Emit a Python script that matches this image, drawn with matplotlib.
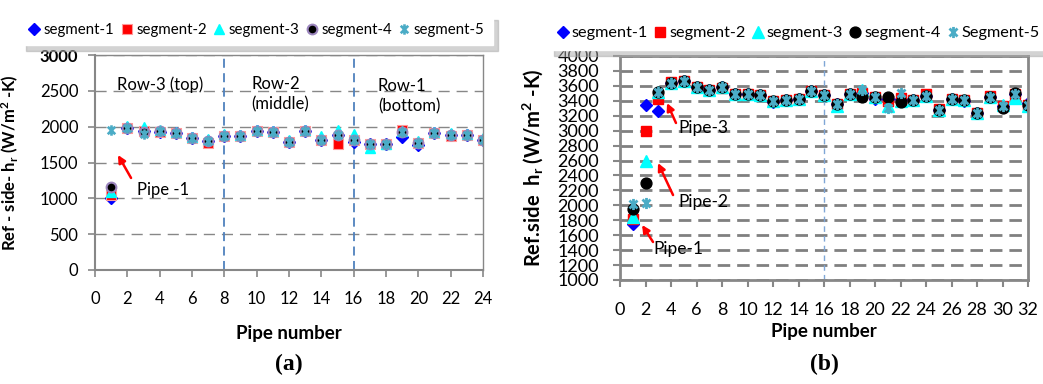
import matplotlib
matplotlib.use("Agg")
import matplotlib.pyplot as plt
from matplotlib.path import Path
import numpy as np

plt.rcParams['font.family'] = ['Lato', 'DejaVu Sans']
plt.rcParams['mathtext.default'] = 'regular'

# ---------------- data: panel (a), 24 pipes ----------------
pipes_a = list(range(1, 25))
a_seg1 = [1000, 1975, 1940, 1920, 1905, 1840, 1795, 1875, 1865, 1945, 1925, 1790,
          1940, 1815, 1880, 1790, 1765, 1755, 1850, 1750, 1905, 1885, 1885, 1810]
a_seg2 = [1040, 1975, 1940, 1920, 1905, 1840, 1775, 1875, 1865, 1945, 1925, 1790,
          1940, 1815, 1760, 1820, 1765, 1755, 1960, 1770, 1905, 1870, 1885, 1820]
a_seg3 = [1085, 2010, 1990, 1960, 1930, 1860, 1830, 1900, 1880, 1960, 1940, 1810,
          1955, 1870, 1960, 1900, 1700, 1765, 1940, 1800, 1920, 1905, 1900, 1840]
a_seg4 = [1160, 1975, 1930, 1940, 1905, 1840, 1795, 1875, 1865, 1945, 1925, 1790,
          1940, 1815, 1880, 1820, 1765, 1755, 1925, 1770, 1905, 1885, 1885, 1820]
a_seg5 = [1960, 1975, 1900, 1940, 1905, 1840, 1795, 1875, 1865, 1945, 1925, 1790,
          1940, 1815, 1880, 1820, 1765, 1755, 1925, 1770, 1905, 1885, 1885, 1820]

# ---------------- data: panel (b), 32 pipes ----------------
pipes_b = list(range(1, 33))
b_seg1 = [1750, 3340, 3270, 3640, 3660, 3580, 3545, 3590, 3490, 3495, 3480, 3380,
          3410, 3420, 3530, 3480, 3360, 3490, 3510, 3420, 3420, 3420, 3413, 3467,
          3275, 3420, 3400, 3230, 3445, 3330, 3490, 3370]
b_seg2 = [1820, 3000, 3430, 3650, 3660, 3580, 3545, 3570, 3490, 3495, 3480, 3400,
          3410, 3420, 3530, 3480, 3360, 3490, 3510, 3445, 3400, 3440, 3413, 3490,
          3290, 3420, 3413, 3230, 3470, 3330, 3490, 3340]
b_seg3 = [1840, 2600, 3520, 3640, 3660, 3580, 3545, 3590, 3490, 3495, 3480, 3400,
          3410, 3420, 3530, 3480, 3330, 3490, 3540, 3445, 3330, 3400, 3413, 3467,
          3275, 3420, 3413, 3230, 3445, 3350, 3440, 3330]
b_seg4 = [1950, 2300, 3520, 3640, 3660, 3580, 3545, 3590, 3490, 3495, 3480, 3400,
          3410, 3420, 3530, 3480, 3360, 3490, 3450, 3445, 3445, 3380, 3413, 3467,
          3275, 3420, 3413, 3230, 3445, 3310, 3500, 3340]
b_seg5 = [2020, 2030, 3520, 3640, 3660, 3580, 3545, 3590, 3490, 3495, 3480, 3400,
          3410, 3420, 3530, 3480, 3360, 3490, 3540, 3445, 3300, 3510, 3413, 3467,
          3275, 3420, 3413, 3230, 3445, 3330, 3490, 3340]

labels_a = ["segment-1", "segment-2", "segment-3", "segment-4", "segment-5"]
labels_b = ["segment-1", "segment-2", "segment-3", "segment-4", "Segment-5"]

# star marker: vertical bar plus an X
star = Path([(0, -1), (0, 1), (-0.72, -0.72), (0.72, 0.72), (-0.72, 0.72), (0.72, -0.72)],
            [Path.MOVETO, Path.LINETO] * 3)

fig = plt.figure(figsize=(10.43, 3.84), dpi=100)
W, H = 1043, 384

GRAY = '#878787'
BLUE_LINE = '#4F81BD'
SHADOW = {'color': '#a8a8a8', 'alpha': 0.5, 'ox': 4, 'oy': -4}

# ================= panel (a) =================
axa = fig.add_axes([95 / W, (H - 270) / H, 388 / W, 215 / H])
sty_a = [
    dict(marker='D', color='#0000FF', ms=5.8, mec='#0000FF'),
    dict(marker='s', color='#FF0000', ms=7.2, mec='#FF9999', mew=0.8),
    dict(marker='^', color='#00FFFF', ms=7, mec='#00FFFF'),
    dict(marker='o', color='#000000', ms=7, mec='#9B85BD', mew=1.5),
    dict(marker=star, color='#4BACC6', ms=7.5, mew=1.9, mfc='none', mec='#4BACC6'),
]
handles_a = []
for ys, st, lab in zip([a_seg1, a_seg2, a_seg3, a_seg4, a_seg5], sty_a, labels_a):
    h, = axa.plot(pipes_a, ys, ls='none', label=lab, **st)
    handles_a.append(h)

axa.set_xlim(0, 24)
axa.set_ylim(0, 3000)
axa.set_xticks(np.arange(0, 25, 2))
axa.set_yticks(np.arange(0, 3001, 500))
axa.yaxis.grid(True, color=GRAY, lw=1.0, ls=(0, (8, 5)))
axa.set_axisbelow(True)
for s in axa.spines.values():
    s.set_color(GRAY)
    s.set_linewidth(1.0)
axa.spines['left'].set_linewidth(1.5)
axa.spines['bottom'].set_linewidth(1.5)
axa.tick_params(axis='both', direction='out', color=GRAY, width=1.2, length=5,
                labelsize=12)
axa.tick_params(axis='y', pad=7)
axa.tick_params(axis='x', pad=10)
for t in axa.get_yticklabels():
    if t.get_text() == '3000':
        t.set_fontweight('bold')
for xv in (8, 16):
    axa.axvline(xv, color=BLUE_LINE, lw=1.3, ls=(0, (5, 3)), zorder=1)

axa.text(1.36, 2581, "Row-3 (top)", fontsize=12, va='center', ha='left')
axa.text(9.65, 2455, "Row-2\n(middle)", fontsize=12, va='center', ha='left', linespacing=1.3)
axa.text(17.5, 2428, "Row-1\n(bottom)", fontsize=12, va='center', ha='left', linespacing=1.3)
axa.text(2.6, 1116, "Pipe -1", fontsize=12, va='center', ha='left')
axa.annotate('', xy=(1.42, 1605), xytext=(2.23, 1284),
             arrowprops=dict(arrowstyle='-|>', color='#FF0000', lw=1.8, mutation_scale=11,
                             shrinkA=0, shrinkB=0))

axa.set_ylabel(r"Ref - side- h$_{\mathregular{r}}$ (W/m$^{\mathregular{2}}$ -K)",
               fontsize=12, fontweight='bold')
axa.yaxis.set_label_coords((21 - 95) / 388, 0.5)
axa.set_xlabel("Pipe number", fontsize=13.5, fontweight='bold')
axa.xaxis.set_label_coords(0.5, (270 - 333) / 215)
axa.xaxis.label.set_va('center')
axa.text(0.5, (270 - 364) / 215, "(a)", transform=axa.transAxes, ha='center', va='center',
         fontsize=17, fontweight='bold', family='Liberation Serif')

leg_a = fig.legend(handles=handles_a, loc='upper left', bbox_to_anchor=(13 / W, 1 - 7 / H),
                   ncol=5, frameon=True, shadow=SHADOW, fancybox=False, fontsize=10.8,
                   handlelength=0.7, handletextpad=0.3, columnspacing=0.45,
                   borderpad=0.55, edgecolor='white')

# ================= panel (b) =================
axb = fig.add_axes([620 / W, (H - 280) / H, 408 / W, 224 / H])
sty_b = [
    dict(marker='D', color='#0000FF', ms=6.5),
    dict(marker='s', color='#FF0000', ms=7.8),
    dict(marker='^', color='#00FFFF', ms=8),
    dict(marker='o', color='#000000', ms=7.8),
    dict(marker=star, color='#4BACC6', ms=8, mew=2.0, mfc='none', mec='#4BACC6'),
]
handles_b = []
for ys, st, lab in zip([b_seg1, b_seg2, b_seg3, b_seg4, b_seg5], sty_b, labels_b):
    h, = axb.plot(pipes_b, ys, ls='none', label=lab, **st)
    handles_b.append(h)

axb.set_xlim(0, 32)
axb.set_ylim(1000, 4000)
axb.set_xticks(np.arange(0, 33, 2))
axb.set_yticks(np.arange(1000, 4001, 200))
axb.yaxis.grid(True, color='#808080', lw=2.0, ls=(0, (4.5, 2.5)))
axb.set_axisbelow(True)
for s in axb.spines.values():
    s.set_color(GRAY)
    s.set_linewidth(2.0)
axb.tick_params(axis='both', direction='out', color=GRAY, width=1.5, length=5,
                labelsize=13)
axb.tick_params(axis='y', pad=10)
axb.tick_params(axis='x', pad=11)
axb.axvline(16, color='#7FA6D6', lw=1.0, ls=(0, (4, 3)), zorder=1)

axb.text(4.55, 3036, "Pipe-3", fontsize=12.5, va='center', ha='left')
axb.text(4.55, 2045, "Pipe-2", fontsize=12.5, va='center', ha='left')
axb.text(2.6, 1415, "Pipe-1", fontsize=12.5, va='center', ha='left')
arrow_kw = dict(arrowstyle='-|>', color='#FF0000', lw=1.8, mutation_scale=11, shrinkA=0, shrinkB=0)
axb.annotate('', xy=(3.69, 3370), xytext=(4.39, 3103), arrowprops=arrow_kw)
axb.annotate('', xy=(2.98, 2567), xytext=(4.16, 2138), arrowprops=arrow_kw)
axb.annotate('', xy=(1.73, 1737), xytext=(2.59, 1509), arrowprops=arrow_kw)

axb.set_ylabel(r"Ref.side  h$_{\mathregular{r}}$ (W/m$^{\mathregular{2}}$ -K)",
               fontsize=14.5, fontweight='bold')
axb.yaxis.set_label_coords((545 - 620) / 408, 0.5)
axb.set_xlabel("Pipe number", fontsize=13.5, fontweight='bold')
axb.xaxis.set_label_coords(0.5, (280 - 331) / 224)
axb.xaxis.label.set_va('center')
axb.text(0.5, (280 - 364) / 224, "(b)", transform=axb.transAxes, ha='center', va='center',
         fontsize=17, fontweight='bold', family='Liberation Serif')

leg_b = fig.legend(handles=handles_b, loc='upper left', bbox_to_anchor=(540 / W, 1 - 8 / H),
                   ncol=5, frameon=True, shadow=SHADOW, fancybox=False, fontsize=11.7,
                   handlelength=0.6, handletextpad=0.25, columnspacing=0.45,
                   borderpad=0.6, edgecolor='white')

fig.savefig("out.png", dpi=100)
